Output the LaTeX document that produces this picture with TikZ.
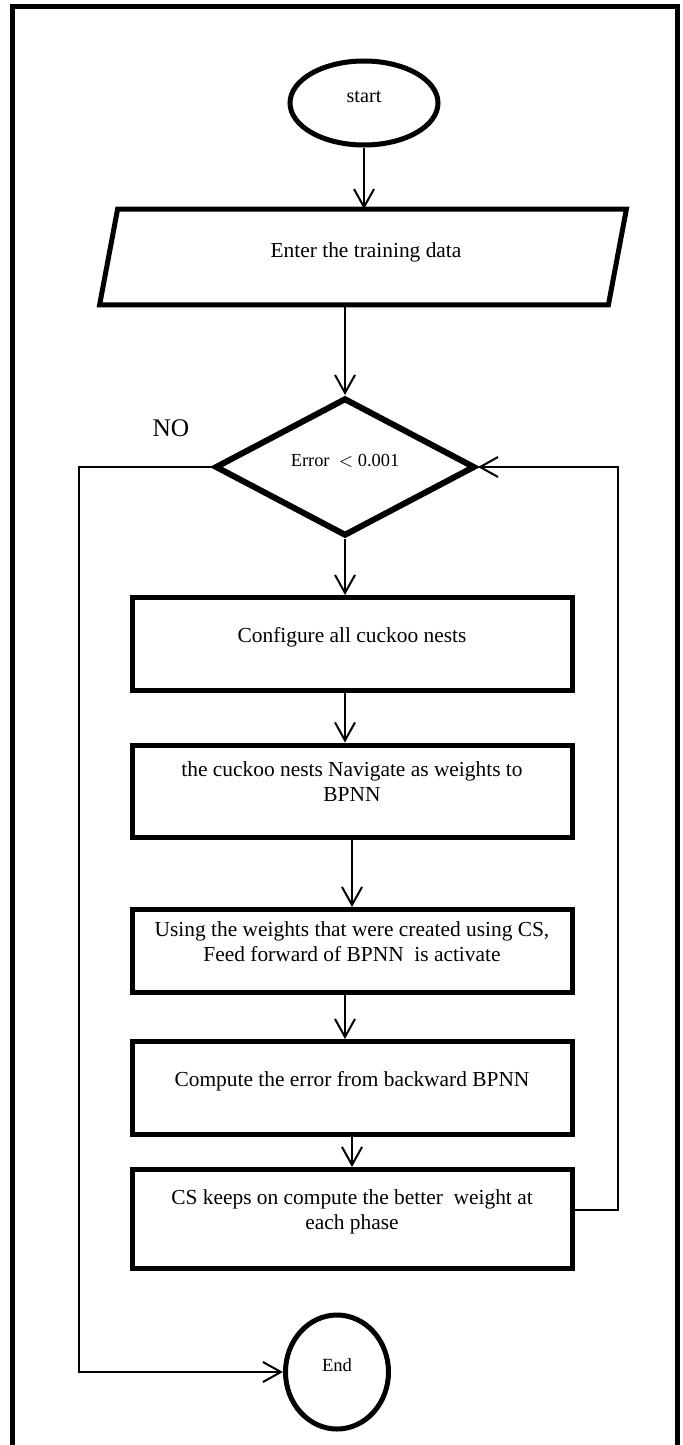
\documentclass[tikz,border=0pt]{standalone}
\usepackage{fontspec}
\setmainfont{Liberation Serif}
\usetikzlibrary{arrows.meta,shapes.geometric,calc}
% extra depth under the last line, so the text sits a little above the middle
\newcommand{\lowpad}[1]{\rule[-#1]{0pt}{#1}}

\begin{document}
\begin{tikzpicture}[x=0.5pt,y=-0.5pt,
    box/.style={draw,line width=2.5pt,minimum width=220pt,align=center,
        font=\fontsize{10.7}{12.5}\selectfont,execute at end node=\lowpad{9pt}},
    term/.style={draw,ellipse,line width=2.5pt,inner sep=0pt,execute at end node=\lowpad{6.5pt}},
    arr/.style={line width=1pt,-{Straight Barb[length=9pt,width=10pt,line width=1pt]}},
    link/.style={line width=1pt}]
    \useasboundingbox (0,0) rectangle (683,1445);

    % frame
    \draw[line width=2.5pt] (12,1460) -- (12,7) -- (677,7) -- (677,1460);

    \node[term,minimum width=74pt,minimum height=42pt,font=\fontsize{10.1}{12}\selectfont] (start) at (364,103) {start};
    \node[minimum width=254pt,minimum height=47.5pt,font=\fontsize{10.7}{12.5}\selectfont,
        execute at end node=\lowpad{7.3pt}] (in) at (366,257) {Enter the training data};
    \draw[line width=2.5pt] ($(in.north west)+(6,0)$) -- ($(in.north east)+(6,0)$)
        -- ($(in.south east)+(-12,0)$) -- ($(in.south west)+(-12,0)$) -- cycle;
    \node[diamond,draw,line width=3pt,inner sep=0pt,minimum width=130pt,minimum height=69pt,
        font=\fontsize{9.2}{11}\selectfont,execute at end node=\lowpad{7pt}] (dec) at (345,467) {Error\ \ $<$ 0.001};
    \node[font=\fontsize{12.7}{14}\selectfont] (no) at (171,428) {NO};

    \node[box,minimum height=46.5pt] (b1) at (352,644) {Configure all cuckoo nests};
    \node[box,minimum height=46pt] (b2) at (352,791) {the cuckoo nests Navigate as weights to\\BPNN};
    \node[box,minimum height=41.5pt] (b3) at (352,951) {Using the weights that were created using CS,\\Feed forward of BPNN\ \ is activate};
    \node[box,minimum height=46.5pt] (b4) at (352,1088) {Compute the error from backward BPNN};
    \node[box,minimum height=49.5pt] (b5) at (352,1219) {CS keeps on compute the better\ \ weight at\\each phase};

    \node[term,minimum width=51.5pt,minimum height=57pt,font=\fontsize{9.3}{11}\selectfont] (end) at (337,1372) {End};

    \coordinate (noc) at (79,467);
    \coordinate (yesc) at (618,467);

    \draw[arr] (start.south) -- (start.south |- in.north);
    \draw[arr] (in.south -| dec.north) -- (dec.north);
    \draw[arr] (dec.south) -- (dec.south |- b1.north);
    \draw[arr] ([xshift=-3.5pt]b1.south) -- ([xshift=-3.5pt]b2.north);
    \draw[arr] (b2.south) -- (b3.north);
    \draw[arr] ([xshift=-3.5pt]b3.south) -- ([xshift=-3.5pt]b4.north);
    \draw[arr] (b4.south) -- (b5.north);
    \draw[arr] (dec.west) -- (noc) |- (end.west);
    \draw[arr] ([yshift=4.5pt]b5.east) -| (yesc) -- (dec.east);
\end{tikzpicture}
\end{document}
